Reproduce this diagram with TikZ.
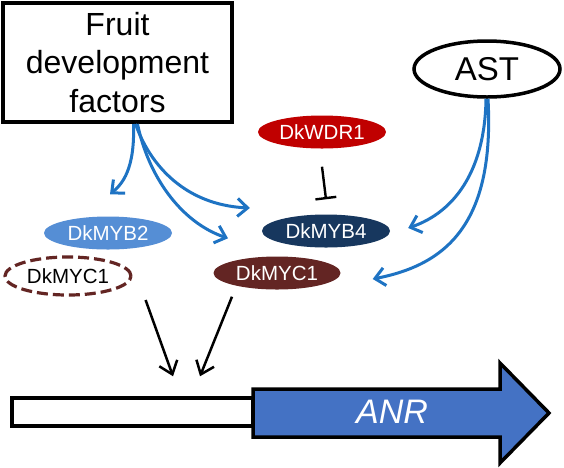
\documentclass[tikz,border=0pt]{standalone}
\usepackage{fontspec}
\setmainfont{Liberation Sans}
\usetikzlibrary{shapes.geometric,arrows.meta}
\definecolor{arrblue}{RGB}{30,115,195}
\definecolor{myb2c}{RGB}{85,142,213}
\definecolor{myb4c}{RGB}{23,55,94}
\definecolor{wdrc}{RGB}{192,0,0}
\definecolor{mycc}{RGB}{99,37,35}
\definecolor{genec}{RGB}{68,114,196}
\tikzset{
  prot/.style={ellipse, minimum width=128pt, minimum height=33pt, inner sep=0pt, text=white, font=\fontsize{20.5}{24}\selectfont},
  bluearr/.style={draw=arrblue, line width=3pt, -{Straight Barb[length=10pt,width=18pt,line width=3pt]}},
  blackarr/.style={draw=black, line width=2.5pt, -{Straight Barb[length=12pt,width=19pt,line width=2.5pt]}},
}
\begin{document}
\begin{tikzpicture}[x=1pt,y=-1pt]
\useasboundingbox (0,0) rectangle (564,467);
% nodes
\node[draw, line width=4pt, minimum width=229pt, minimum height=119pt, align=center, inner sep=0pt,
      font=\fontsize{32}{38.5}\selectfont] (fdf) at (117.5,62.5) {Fruit\\development\\factors};
\node[draw, ellipse, line width=3.5pt, minimum width=146pt, minimum height=56pt, inner sep=0pt,
      font=\fontsize{33}{36}\selectfont] (ast) at (487,69) {AST};
\node[prot, fill=wdrc] (wdr1) at (322,132) {DkWDR1};
\node[prot, fill=myb4c] (myb4) at (326,231) {DkMYB4};
\node[prot, fill=myb2c] (myb2) at (108,233) {DkMYB2};
\node[prot, fill=mycc, minimum width=127pt] (myc1) at (277,273) {DkMYC1};
\node[prot, draw=mycc, fill=white, text=black, line width=3.2pt, dash pattern=on 11pt off 5pt,
      minimum width=126pt, minimum height=38pt] (myc1d) at (68,276) {DkMYC1};
% gene
\node[draw, line width=3.5pt, fill=white, minimum width=241pt, minimum height=28pt, inner sep=0pt] (prom) at (132.5,412) {};
\draw[line width=3.5pt, fill=genec, line join=miter] (253,389) -- (500,389) -- (500,363) -- (549,413) -- (500,463) -- (500,437) -- (253,437) -- cycle;
\node[text=white, font=\fontsize{34}{38}\selectfont\itshape] (anr) at (392,412) {ANR};
% blue arrows from fruit development factors
\draw[bluearr] ([xshift=16pt]fdf.south) .. controls (135,170) and (122,184) .. ([xshift=2pt,yshift=22pt]myb2.north);
\draw[bluearr] ([xshift=18pt]fdf.south) .. controls (150,165) and (185,205) .. ([xshift=-12pt,yshift=23pt]myb4.west);
\draw[bluearr] ([xshift=20pt]fdf.south) .. controls (148,175) and (180,222) .. ([xshift=-49pt,yshift=18pt]myc1.north);
% blue arrows from AST
\draw[bluearr] ([xshift=-1pt]ast.south) .. controls (485,170) and (455,212) .. ([xshift=18pt,yshift=3pt]myb4.east);
\draw[bluearr] ([xshift=1pt]ast.south) .. controls (495,225) and (445,265) .. ([xshift=32pt,yshift=-6pt]myc1.east);
% inhibition
\draw[line width=2.4pt, -{Bar[width=21pt,line width=2.4pt]}] ([yshift=-18pt]wdr1.south) -- ([yshift=15pt]myb4.north);
% black arrows
\draw[blackarr] ([xshift=13pt,yshift=-24pt]myc1d.east) -- ([xshift=40.5pt,yshift=20pt]prom.north);
\draw[blackarr] ([xshift=-45pt,yshift=-7pt]myc1.south) -- ([xshift=67.5pt,yshift=20pt]prom.north);
\end{tikzpicture}
\end{document}
